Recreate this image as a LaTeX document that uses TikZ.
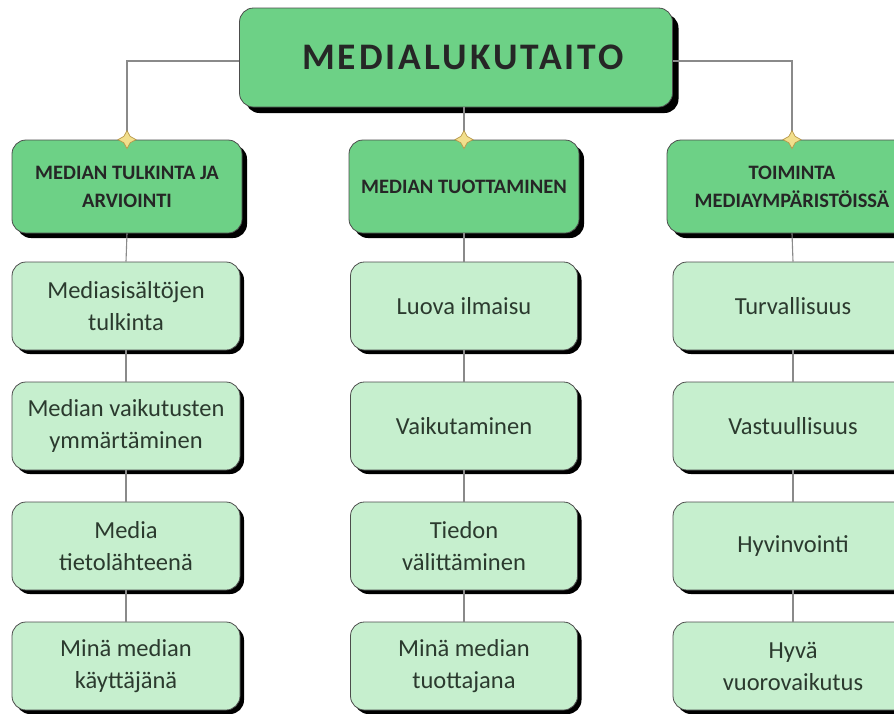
\documentclass[tikz,border=0pt]{standalone}
\usepackage{fontspec}
\setmainfont{Carlito}
\newfontfamily\titlefont[LetterSpace=8]{Carlito}
\usetikzlibrary{shadows,shapes.geometric}
\definecolor{darkgrn}{HTML}{6DD186}
\definecolor{lightgrn}{HTML}{C6EFCE}
\definecolor{txtgrn}{HTML}{2B3A2E}
\definecolor{linegray}{HTML}{8A8A8A}
\definecolor{knotfill}{HTML}{F2DF8C}
\definecolor{knotdraw}{HTML}{B8984A}

\begin{document}
\begin{tikzpicture}[x=1pt,y=-1pt,
   box/.style={rectangle,rounded corners=14pt,draw=black!70,line width=0.8pt,align=center,text=txtgrn,inner sep=2pt},
   shd/.style={drop shadow={shadow xshift=#1,shadow yshift=-#1,fill=black,opacity=1}},
   mainbox/.style={box,shd=6pt,fill=darkgrn,minimum width=433pt,minimum height=99pt,text=black!85,font=\titlefont\bfseries\fontsize{37.5}{40}\selectfont},
   headbox/.style={box,shd=5pt,fill=darkgrn,minimum width=#1,minimum height=93pt,text=black!85,font=\bfseries\fontsize{20.5}{28}\selectfont},
   itembox/.style={box,shd=4pt,fill=lightgrn,minimum width=#1,minimum height=88pt,font=\fontsize{24.5}{32}\selectfont},
   conn/.style={draw=linegray,line width=1.1pt},
   knot/.style={star,star points=4,star point ratio=2,minimum size=18pt,inner sep=0pt,fill=knotfill,draw=knotdraw,line width=0.7pt}]
\useasboundingbox (0,0) rectangle (894,713);
\clip (0,0) rectangle (894,713);
% top
\node[mainbox] (mlt) at (456,57.5) {\hspace{14pt}MEDIALUKUTAITO};
% headings
\node[headbox=230pt] (hl) at (127,186.5) {MEDIAN TULKINTA JA\\ARVIOINTI};
\node[headbox=230pt] (hm) at (464,186.5) {MEDIAN TUOTTAMINEN};
\node[headbox=250pt] (hr) at (792,186.5) {TOIMINTA\\MEDIAYMPÄRISTÖISSÄ};
% items
\foreach \r/\t in %
{1/{Mediasisältöjen\\tulkinta},2/{Median vaikutusten\\ymmärtäminen},3/{Media\\tietolähteenä},4/{Minä median\\käyttäjänä}} {
   \node[itembox=228pt] (l\r) at (126,{186+120*\r}) {\t};
}
\foreach \r/\t in %
{1/{Luova ilmaisu},2/{Vaikutaminen},3/{Tiedon\\välittäminen},4/{Minä median\\tuottajana}} {
   \node[itembox=227pt] (m\r) at (464,{186+120*\r}) {\t};
}
\foreach \r/\t in %
{1/{Turvallisuus},2/{Vastuullisuus},3/{Hyvinvointi},4/{Hyvä\\vuorovaikutus}} {
   \node[itembox=240pt] (r\r) at (793,{186+120*\r}) {\t};
}
% connectors
\draw[conn] ([yshift=-3.5pt]mlt.west) -| (hl.north);
\draw[conn] (mlt.south -| hm.north) -- (hm.north);
\draw[conn] ([yshift=-3.5pt]mlt.east) -| (hr.north);
\foreach \c in {l,m,r} {
   \draw[conn] (h\c.south) -- (\c1.north);
   \draw[conn] (\c1.south) -- (\c2.north);
   \draw[conn] (\c2.south) -- (\c3.north);
   \draw[conn] (\c3.south) -- (\c4.north);
   \node[knot] (k\c) at (h\c.north) {};
}
\end{tikzpicture}
\end{document}
